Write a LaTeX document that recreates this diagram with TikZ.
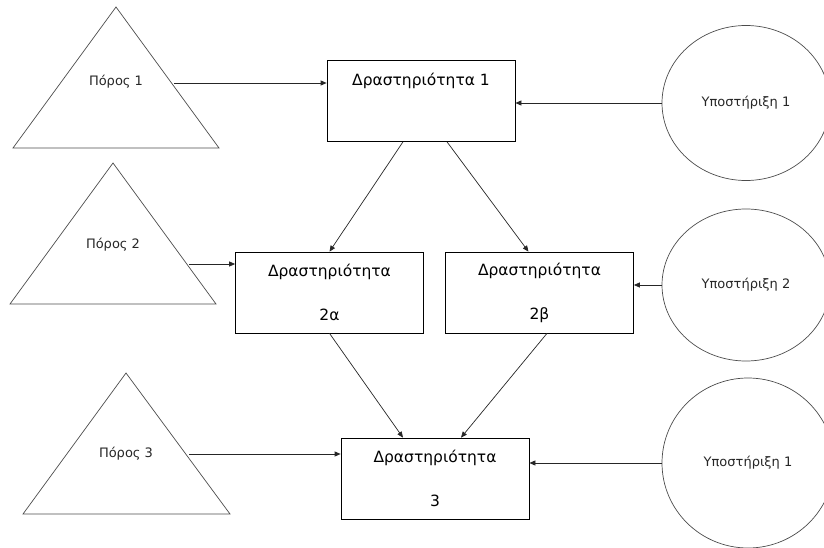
\documentclass[tikz,border=0pt]{standalone}
\usepackage{fontspec}
\setmainfont{DejaVu Sans}
\usetikzlibrary{shapes.geometric,arrows.meta}
\begin{document}
\begin{tikzpicture}[x=1pt,y=-1pt,line width=0.7pt,
                     act node/.style={rectangle,draw,minimum width=188pt,minimum height=81pt,inner sep=0pt,align=center,font=\fontsize{15.5}{44}\selectfont},
                     sup node/.style={ellipse,draw=black!70,inner sep=0pt,text=black!85,font=\fontsize{13}{15}\selectfont},
                     res shape/.style={draw=black!70,line join=miter},
                     res text/.style={text=black!85,font=\fontsize{13}{15}\selectfont},
                     link/.style={-{Triangle[length=6pt,width=5pt]},draw=black!85}
                    ]
   \useasboundingbox (0,0) rectangle (824,548);
   % resources (triangles)
   \draw[res shape] (116,7) -- (219,148) -- (13,148) -- cycle;
   \draw[res shape] (113,163) -- (216,304) -- (10,304) -- cycle;
   \draw[res shape] (126,373) -- (230,514) -- (23,514) -- cycle;
   \node[res text] (p1) at (116,82) {Πόρος 1};
   \node[res text] (p2) at (113,245) {Πόρος 2};
   \node[res text] (p3) at (126,454) {Πόρος 3};
   \coordinate (p1out) at (174,83);
   \coordinate (p2out) at (189,264);
   \coordinate (p3out) at (189,454);
   % activities
   \node[act node] (a1) at (421,101) {Δραστηριότητα 1\\~};
   \node[act node] (a2a) at (329.5,292.5) {Δραστηριότητα\\2α};
   \node[act node] (a2b) at (539.5,292.5) {Δραστηριότητα\\2β};
   \node[act node] (a3) at (435,478.5) {Δραστηριότητα\\3};
   % support (circles)
   \node[sup node,minimum width=168pt,minimum height=155pt] (s1) at (746,103) {Υποστήριξη 1};
   \node[sup node,minimum width=168pt,minimum height=152pt] (s2) at (746,285) {Υποστήριξη 2};
   \node[sup node,minimum width=172pt,minimum height=170pt] (s3) at (748,463) {Υποστήριξη 1};
   \path%
     (p1out) edge[link] (p1out -| a1.west)
     (p2out) edge[link] (p2out -| a2a.west)
     (p3out) edge[link] (p3out -| a3.west)
     (s1.west) edge[link] (s1.west -| a1.east)
     (s2.west) edge[link] (s2.west -| a2b.east)
     (s3.west) edge[link] (s3.west -| a3.east)
     ([xshift=-18pt]a1.south) edge[link] (a2a.north)
     ([xshift=26pt]a1.south) edge[link] ([xshift=-11pt]a2b.north)
     (a2a.south) edge[link] ([xshift=-32pt]a3.north)
     ([xshift=7.5pt]a2b.south) edge[link] ([xshift=26pt]a3.north);
\end{tikzpicture}
\end{document}
